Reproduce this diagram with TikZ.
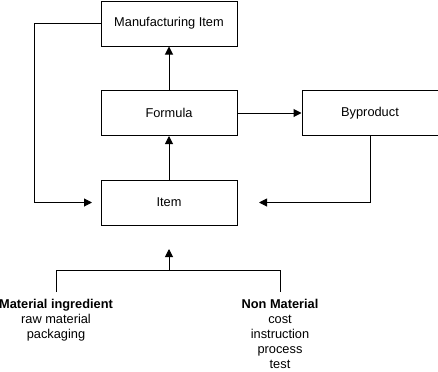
\documentclass[tikz,border=0pt]{standalone}
\usepackage{fontspec}
\setmainfont{Liberation Sans}
\usetikzlibrary{arrows.meta}
\begin{document}
\begin{tikzpicture}[x=0.75pt,y=-0.75pt,
  box/.style={draw,line width=0.75pt,minimum width=102pt,minimum height=33.75pt,inner sep=0pt,font=\fontsize{9.6}{11.25}\selectfont},
  conn/.style={line width=0.75pt},
  arr/.style={conn,-{Triangle[length=6pt,width=6pt]}},
  lbl/.style={align=center,inner sep=0pt,font=\fontsize{9.6}{11.25}\selectfont}]
\useasboundingbox (0,0) rectangle (438,371);
\node[box] (mi) at (169,23.5) {Manufacturing Item};
\node[box] (fo) at (169,113) {Formula};
\node[box] (by) at (370,113) {Byproduct};
\node[box] (it) at (169,202.5) {Item};
\coordinate (lt) at (92,202.5);
\coordinate (rt) at (259,202.5);
\coordinate (bt) at (169,249);
\coordinate (jn) at (169,270);
\coordinate (ml) at (56,270);
\coordinate (nl) at (280,270);
\coordinate (mle) at (56,292);
\coordinate (nle) at (280,292);
\node[lbl,anchor=north] (mat) at (56,298.5) {\textbf{Material ingredient}\\raw material\\packaging};
\node[lbl,anchor=north] (non) at (280,298.5) {\textbf{Non Material}\\cost\\instruction\\process\\test};
\draw[arr] (fo.north) -- (mi.south);
\draw[arr] (it.north) -- (fo.south);
\draw[arr] (fo.east) -- (by.west);
\draw[arr] (mi.west) -| (34,202.5) -- (lt);
\draw[arr] (by.south) |- (rt);
\draw[arr] (jn) -- (bt);
\draw[conn] (mle) -- (ml) -- (nl) -- (nle);
\end{tikzpicture}
\end{document}
